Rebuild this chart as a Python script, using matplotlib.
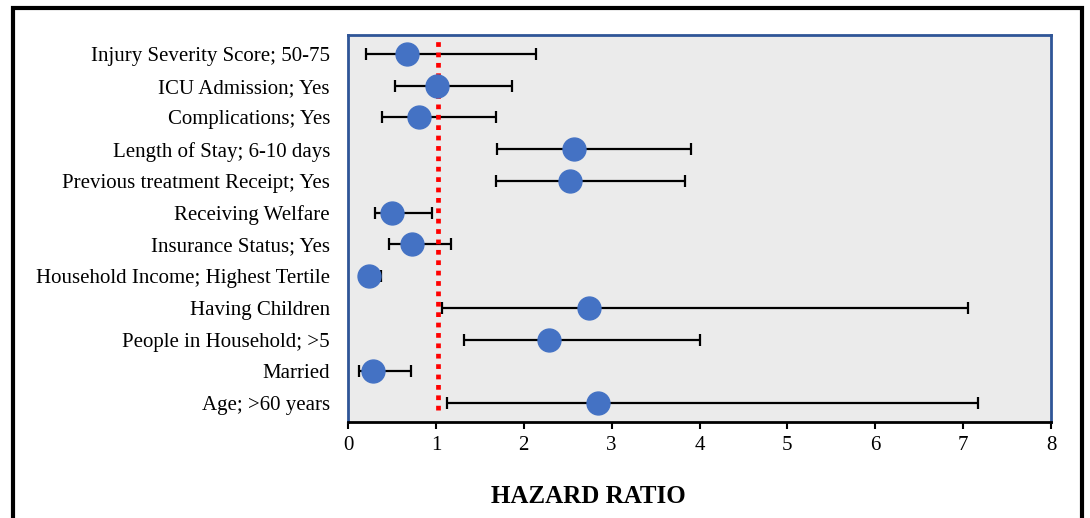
import matplotlib
matplotlib.use("Agg")
from matplotlib import pyplot as plt
from matplotlib.patches import Rectangle
import numpy as np

# forest plot of hazard ratios with 95% CI

labels = [
    "Injury Severity Score; 50-75",
    "ICU Admission; Yes",
    "Complications; Yes",
    "Length of Stay; 6-10 days",
    "Previous treatment Receipt; Yes",
    "Receiving Welfare",
    "Insurance Status; Yes",
    "Household Income; Highest Tertile",
    "Having Children",
    "People in Household; >5",
    "Married",
    "Age; >60 years",
]
hr = [0.67, 1.01, 0.81, 2.57, 2.53, 0.50, 0.73, 0.24, 2.74, 2.29, 0.28, 2.84]
ci_low = [0.21, 0.54, 0.39, 1.70, 1.68, 0.31, 0.47, 0.15, 1.07, 1.32, 0.12, 1.13]
ci_high = [2.14, 1.87, 1.68, 3.90, 3.84, 0.95, 1.17, 0.37, 7.06, 4.01, 0.72, 7.17]

ref_line = 1.02
x_ticks = [0, 1, 2, 3, 4, 5, 6, 7, 8]

plt.rcParams['font.family'] = ['Liberation Serif', 'DejaVu Serif']

fig = plt.figure(figsize=(10.9, 5.18), dpi=100)
ax = fig.add_axes([0.3193, 0.1853, 0.9642 - 0.3193, 0.9324 - 0.1853])

y = np.arange(len(labels))[::-1]
hr = np.array(hr)
lo = hr - np.array(ci_low)
hi = np.array(ci_high) - hr

ax.set_facecolor("#ebebeb")
ax.errorbar(hr, y, xerr=[lo, hi], fmt="none", ecolor="black",
            elinewidth=1.6, capsize=4, capthick=1.6, zorder=2)
ax.axvline(ref_line, ymin=0.03, ymax=0.99, color="#ff0000", lw=3.4,
           linestyle=(0, (1, 1.2)), zorder=3)
ax.plot(hr, y, "o", color="#4472c4", markersize=16.5, zorder=4)

ax.set_xlim(0, 8)
ax.set_ylim(-0.6, 11.6)
ax.set_xticks(x_ticks)
ax.set_yticks(y)
ax.set_yticklabels(labels)
ax.tick_params(axis="y", length=0, pad=13, labelsize=15)
ax.tick_params(axis="x", length=5, width=1.5, direction="out", labelsize=15, pad=5)

for s in ["top", "left", "right"]:
    ax.spines[s].set_color("#2f5597")
    ax.spines[s].set_linewidth(2)
ax.spines["bottom"].set_color("black")
ax.spines["bottom"].set_linewidth(2)

fig.text(0.54, 0.028, "HAZARD RATIO", ha="center", va="baseline",
         fontsize=18, fontweight="bold")

# outer frame
fig.patches.append(Rectangle((0.012, -0.1), 0.981, 1.085, transform=fig.transFigure,
                             fill=False, edgecolor="black", lw=3, clip_on=False))

fig.savefig("out.png", dpi=100)
